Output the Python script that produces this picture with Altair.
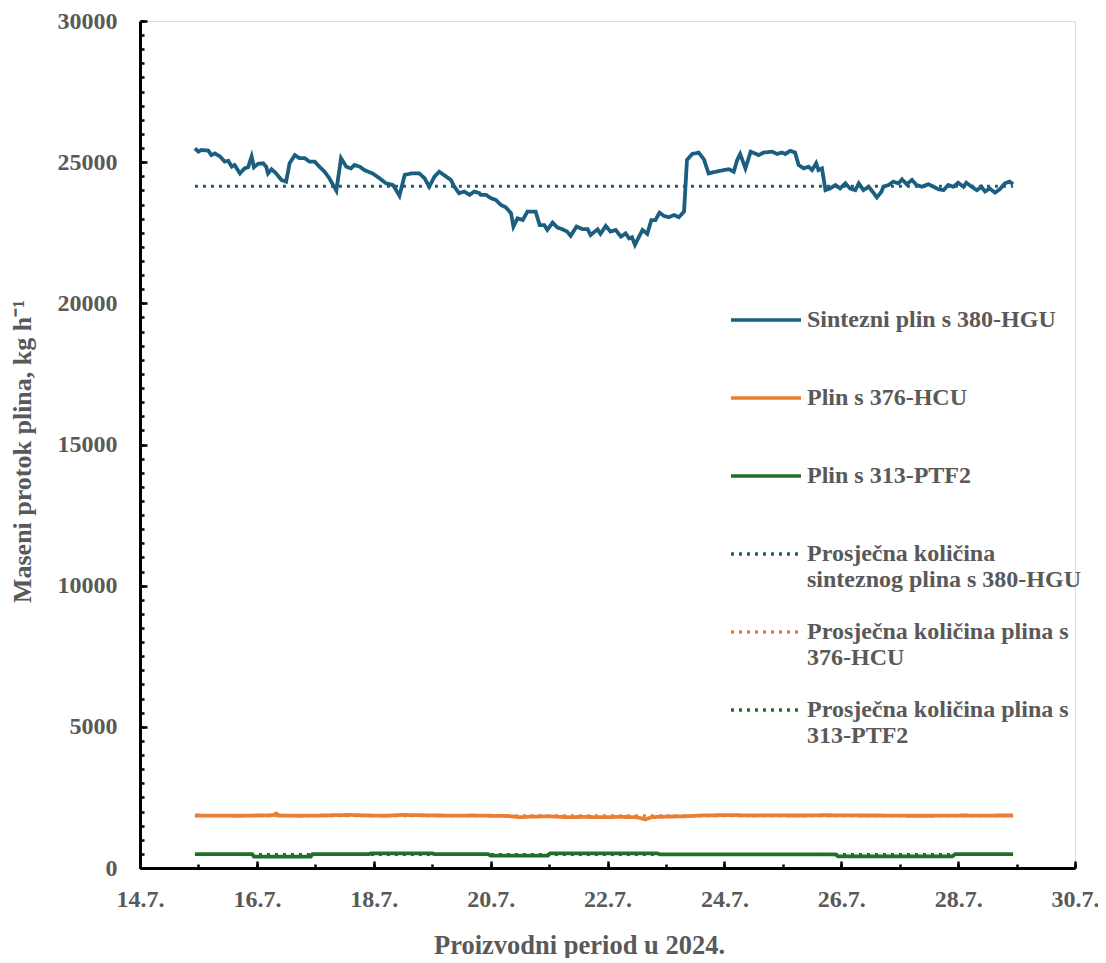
import altair as alt
import pandas as pd

# ---------------- data ----------------
S1 = "Sintezni plin s 380-HGU"
S2 = "Plin s 376-HCU"
S3 = "Plin s 313-PTF2"
S4 = "Prosječna količina|sinteznog plina s 380-HGU"
S5 = "Prosječna količina plina s|376-HCU"
S6 = "Prosječna količina plina s|313-PTF2"
series_names = [S1, S2, S3, S4, S5, S6]

# day of July 2024 (fractional)
hgu_day = [
    14.94, 15.00, 15.05, 15.17, 15.22, 15.28, 15.37, 15.45, 15.51, 15.57,
    15.62, 15.71, 15.79, 15.85, 15.91, 15.95, 16.02, 16.11, 16.16, 16.19,
    16.25, 16.33, 16.42, 16.50, 16.56, 16.65, 16.73, 16.82, 16.90, 16.99,
    17.07, 17.16, 17.24, 17.36, 17.44, 17.53, 17.61, 17.67, 17.76, 17.84,
    17.98, 18.10, 18.21, 18.33, 18.44, 18.53, 18.64, 18.78, 18.87, 18.95,
    19.04, 19.12, 19.24, 19.32, 19.38, 19.46, 19.55, 19.64, 19.72, 19.81,
    19.83, 19.92, 20.01, 20.09, 20.18, 20.26, 20.35, 20.39, 20.46, 20.55,
    20.63, 20.77, 20.84, 20.92, 20.97, 21.06, 21.14, 21.23, 21.31, 21.37,
    21.47, 21.57, 21.66, 21.71, 21.83, 21.88, 21.97, 22.05, 22.14, 22.23,
    22.31, 22.37, 22.42, 22.47, 22.54, 22.60, 22.68, 22.75, 22.82, 22.89,
    22.97, 23.05, 23.14, 23.22, 23.31, 23.36, 23.45, 23.56, 23.65, 23.73,
    23.85, 23.99, 24.08, 24.16, 24.22, 24.27, 24.36, 24.45, 24.59, 24.67,
    24.82, 24.90, 24.99, 25.04, 25.13, 25.21, 25.27, 25.36, 25.44, 25.50,
    25.57, 25.61, 25.67, 25.73, 25.81, 25.90, 25.98, 26.07, 26.15, 26.24,
    26.30, 26.38, 26.47, 26.55, 26.61, 26.69, 26.72, 26.81, 26.89, 26.98,
    27.04, 27.12, 27.21, 27.29, 27.38, 27.49, 27.58, 27.66, 27.75, 27.83,
    27.92, 28.00, 28.09, 28.14, 28.23, 28.32, 28.40, 28.46, 28.54, 28.63,
    28.71, 28.80, 28.88, 28.94,
]
hgu_val = [
    25490, 25370, 25430, 25410, 25250, 25310, 25200, 25020, 25050, 24840,
    24900, 24600, 24780, 24820, 25200, 24820, 24940, 24960, 24840, 24600,
    24750, 24600, 24370, 24310, 24960, 25250, 25140, 25140, 25020, 25020,
    24840, 24660, 24430, 23990, 25140, 24840, 24780, 24900, 24840, 24720,
    24600, 24430, 24250, 24190, 23810, 24550, 24600, 24600, 24430, 24130,
    24490, 24660, 24490, 24370, 24130, 23900, 23960, 23840, 23960, 23900,
    23840, 23840, 23720, 23660, 23480, 23400, 23190, 22720, 23010, 22950,
    23250, 23250, 22770, 22770, 22600, 22860, 22690, 22620, 22540, 22390,
    22720, 22630, 22630, 22420, 22620, 22460, 22740, 22540, 22600, 22360,
    22480, 22300, 22340, 22070, 22360, 22600, 22460, 22950, 22950, 23210,
    23090, 23050, 23130, 23050, 23250, 25080, 25290, 25340, 25100, 24600,
    24660, 24720, 24750, 24660, 25080, 25290, 24780, 25370, 25250, 25340,
    25370, 25290, 25340, 25290, 25400, 25340, 24900, 24780, 24840, 24720,
    24960, 24720, 24780, 24010, 24070, 24190, 24070, 24250, 24070, 24010,
    24250, 24010, 24130, 23920, 23750, 23960, 24130, 24190, 24310, 24250,
    24390, 24220, 24370, 24190, 24130, 24220, 24130, 24040, 24010, 24190,
    24130, 24270, 24130, 24270, 24130, 24010, 24130, 23960, 24070, 23920,
    24040, 24250, 24310, 24220,
]

hcu_day = [14.94, 15.30, 15.70, 16.00, 16.28, 16.33, 16.38, 16.70, 17.00, 17.30,
           17.60, 17.90, 18.20, 18.50, 18.80, 19.10, 19.40, 19.70, 20.00, 20.30,
           20.50, 20.70, 21.00, 21.30, 21.60, 21.90, 22.20, 22.50, 22.65, 22.75,
           23.00, 23.30, 23.60, 23.90, 24.20, 24.50, 24.80, 25.10, 25.40, 25.70,
           26.00, 26.30, 26.60, 26.90, 27.20, 27.50, 27.80, 28.10, 28.40, 28.70,
           28.94]
hcu_val = [1860, 1855, 1850, 1860, 1870, 1930, 1860, 1850, 1855, 1870,
           1880, 1860, 1850, 1880, 1870, 1860, 1855, 1860, 1850, 1840,
           1800, 1820, 1830, 1800, 1810, 1800, 1810, 1800, 1720, 1800,
           1820, 1830, 1860, 1870, 1870, 1860, 1865, 1860, 1860, 1870,
           1865, 1860, 1860, 1855, 1850, 1850, 1855, 1860, 1855, 1860,
           1860]

ptf_day = [14.94, 15.92, 15.95, 16.92, 16.95, 17.92, 17.95, 19.00, 19.05, 19.96,
           20.00, 20.98, 21.02, 22.85, 22.90, 25.90, 25.95, 27.90, 27.95, 28.94]
ptf_val = [490, 490, 400, 400, 490, 490, 520, 520, 490, 490,
           440, 440, 520, 520, 480, 480, 410, 410, 490, 490]

avg_span = [14.94, 28.94]
avg_val = [24150, 1850, 480]

colors = ["#1a5f80", "#ed7d31", "#1f6f2a", "#1a5f80", "#ed7d31", "#1f6f2a"]
dashes = [[1, 0], [1, 0], [1, 0], [3, 5], [3, 5], [3, 5]]

# ---------------- tables ----------------
blue_df = pd.DataFrame({"day": hgu_day, "val": hgu_val, "series": S1})
og_df = pd.concat([
    pd.DataFrame({"day": hcu_day, "val": hcu_val, "series": S2}),
    pd.DataFrame({"day": ptf_day, "val": ptf_val, "series": S3}),
])
avg_df = pd.concat([
    pd.DataFrame({"day": avg_span, "val": [v, v], "series": s})
    for s, v in zip([S4, S5, S6], avg_val)
])

W, H = 935, 847
FONT = "Liberation Serif"
GREY = "#595959"

xscale = alt.Scale(domain=[14, 30], nice=False, zero=False)
yscale = alt.Scale(domain=[0, 30000], nice=False)

legend = alt.Legend(
    title=None, orient="none", legendX=589, legendY=262,
    symbolType="stroke", symbolSize=4900, symbolStrokeWidth=3.5,
    labelFont=FONT, labelFontSize=24, labelFontWeight="bold", labelColor=GREY,
    labelOffset=4, labelLimit=500, rowPadding=3, gridAlign="all",
    labelExpr="split(datum.label, '|')",
)
color_enc = alt.Color("series:N", scale=alt.Scale(domain=series_names, range=colors), legend=legend)
dash_enc = alt.StrokeDash("series:N", scale=alt.Scale(domain=series_names, range=dashes), legend=legend)

main_x = alt.Axis(
    values=list(range(14, 31, 2)), labelExpr="datum.value + '.7.'",
    tickSize=0, domainColor="black", domainWidth=3, grid=False,
    labelFont=FONT, labelFontSize=24, labelFontWeight="bold", labelColor=GREY,
    labelBaseline="alphabetic", labelPadding=38, labelFlush=False,
    title="Proizvodni period u 2024.", titleFont=FONT, titleFontSize=26.5,
    titleFontWeight="bold", titleColor=GREY, titleX=439, titleY=85,
    titleBaseline="alphabetic",
)
main_y = alt.Axis(
    values=list(range(0, 30001, 5000)), format="d", tickSize=0, domainColor="black",
    domainWidth=3, grid=False,
    labelFont=FONT, labelFontSize=24, labelFontWeight="bold", labelColor=GREY,
    labelPadding=23, labelFlush=False,
    title="Maseni protok plina, kg h⁻¹", titleFont=FONT, titleFontSize=26,
    titleFontWeight="bold", titleColor=GREY, titleAngle=-90, titleX=-110,
    titleY=430, titleBaseline="alphabetic", titleAlign="center",
)
major_x = alt.Axis(orient="top", offset=-H, values=list(range(14, 31, 2)),
                   tickSize=7, tickWidth=2.5, tickColor="black", labels=False,
                   domain=False, grid=False, title="")
major_y = alt.Axis(orient="right", offset=-W, values=list(range(0, 30001, 5000)),
                   tickSize=7, tickWidth=2.5, tickColor="black", labels=False,
                   domain=False, grid=False, title="")
minor_x = alt.Axis(orient="top", offset=-H, values=list(range(14, 31)),
                   tickSize=4, tickWidth=2.5, tickColor="black", labels=False,
                   domain=False, grid=False, title="")
minor_y = alt.Axis(orient="right", offset=-W, values=list(range(0, 30001, 500)),
                   tickSize=4, tickWidth=2.5, tickColor="black", labels=False,
                   domain=False, grid=False, title="")

blue = alt.Chart(blue_df).mark_line(strokeWidth=3.8).encode(
    x=alt.X("day:Q", scale=xscale, axis=main_x),
    y=alt.Y("val:Q", scale=yscale, axis=main_y),
    color=color_enc, strokeDash=dash_enc,
)
og = alt.Chart(og_df).mark_line(strokeWidth=3.8).encode(
    x=alt.X("day:Q", scale=xscale, axis=major_x),
    y=alt.Y("val:Q", scale=yscale, axis=major_y),
    color=color_enc, strokeDash=dash_enc,
)
avg = alt.Chart(avg_df).mark_line(strokeWidth=3).encode(
    x=alt.X("day:Q", scale=xscale, axis=minor_x),
    y=alt.Y("val:Q", scale=yscale, axis=minor_y),
    color=color_enc, strokeDash=dash_enc,
)

chart = alt.layer(blue, og, avg).resolve_axis(
    x="independent", y="independent"
).properties(
    width=W, height=H, autosize="none",
    padding={"left": 132, "top": 13, "right": 23, "bottom": 90},
).configure_view(stroke=None).configure(background="white")

chart.save("out.html", embed_options={"renderer": "svg", "actions": False})
